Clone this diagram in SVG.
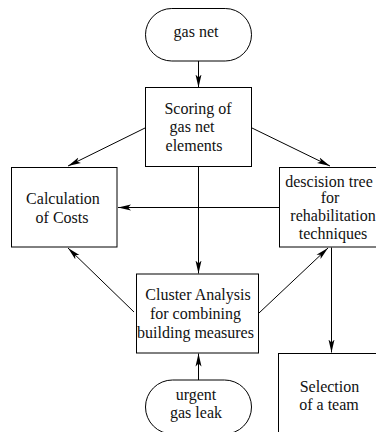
<svg xmlns="http://www.w3.org/2000/svg" width="376" height="432" viewBox="0 0 376 432">
<defs>
<marker id="ah" markerUnits="userSpaceOnUse" markerWidth="14" markerHeight="8" viewBox="0 0 14 8" refX="13" refY="4" orient="auto">
<path d="M0,1 L13,4 L0,7 L3,4 Z" fill="#000"/>
</marker>
<style>
.n{fill:#fff;stroke:#000;stroke-width:1}
.t{font-family:"Liberation Serif","Times New Roman",serif;font-size:16px;fill:#111;text-anchor:middle}
.c{stroke:#000;stroke-width:1;fill:none;marker-end:url(#ah)}
</style>
</defs>
<rect width="376" height="432" fill="#fff"/>
<g id="connectors">
<line class="c" x1="198.5" y1="61" x2="198.5" y2="87.5"/>
<line class="c" x1="145" y1="128" x2="68" y2="166"/>
<line class="c" x1="252" y1="128" x2="330" y2="166"/>
<line class="c" x1="198.5" y1="167" x2="198.5" y2="273.5"/>
<line class="c" x1="279" y1="207.5" x2="118" y2="207.5"/>
<line class="c" x1="134" y1="312" x2="68" y2="248"/>
<line class="c" x1="259" y1="313" x2="328" y2="248"/>
<line class="c" x1="331.5" y1="247.5" x2="331.5" y2="352.5"/>
<line class="c" x1="198.5" y1="380" x2="198.5" y2="353.5"/>
</g>
<g id="gas-net">
<rect class="n" x="145.5" y="8.5" width="106" height="52.5" rx="26.25" ry="26.25"/>
<text class="t" x="196" y="37">gas net</text>
</g>
<g id="scoring">
<rect class="n" x="145.5" y="87.5" width="106" height="79"/>
<text class="t" x="198" y="114">Scoring of</text>
<text class="t" x="192" y="132">gas net</text>
<text class="t" x="194" y="151">elements</text>
</g>
<g id="costs">
<rect class="n" x="11.5" y="167.5" width="105.5" height="79.5"/>
<text class="t" x="63" y="204">Calculation</text>
<text class="t" x="62" y="223">of Costs</text>
</g>
<g id="decision">
<rect class="n" x="279.5" y="167.5" width="108" height="79.5"/>
<text class="t" x="329" y="187">descision tree</text>
<text class="t" x="330" y="203">for</text>
<text class="t" x="333" y="221">rehabilitation</text>
<text class="t" x="333" y="239">techniques</text>
</g>
<g id="cluster">
<rect class="n" x="136.5" y="274" width="122" height="79"/>
<text class="t" x="198" y="300">Cluster Analysis</text>
<text class="t" x="195.5" y="319">for combining</text>
<text class="t" x="195.5" y="338">building measures</text>
</g>
<g id="selection">
<rect class="n" x="278.5" y="353.5" width="110" height="90"/>
<text class="t" x="329.5" y="392">Selection</text>
<text class="t" x="329" y="410">of a team</text>
</g>
<g id="urgent">
<rect class="n" x="145.5" y="380" width="106" height="54" rx="27" ry="27"/>
<text class="t" x="196" y="400">urgent</text>
<text class="t" x="196" y="418">gas leak</text>
</g>
</svg>
